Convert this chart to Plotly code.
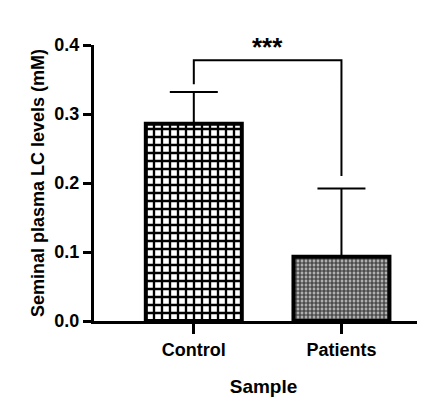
import plotly.graph_objects as go

categories = ["Control", "Patients"]
means = [0.286, 0.093]
sd_plus = [0.046, 0.099]
bracket_y = 0.378
leg_bottoms = [0.343, 0.21]

styles = [
    dict(size=8, solidity=0.5, fg="black", bg="white"),
    dict(size=4, solidity=0.5, fg="#333333", bg="#b0b0b0"),
]

fig = go.Figure()
for i, (m, e) in enumerate(zip(means, sd_plus)):
    s = styles[i]
    fig.add_trace(go.Bar(
        x=[i], y=[m], width=0.65,
        marker=dict(
            color=s["bg"],
            line=dict(color="black", width=4),
            pattern=dict(shape="+", size=s["size"], solidity=s["solidity"],
                         fgcolor=s["fg"], bgcolor=s["bg"], fillmode="replace"),
        ),
        error_y=dict(type="data", array=[e], arrayminus=[0],
                     color="black", thickness=2, width=24),
        showlegend=False,
    ))
# significance bracket
fig.add_trace(go.Scatter(
    x=[0, 0, 1, 1], y=[leg_bottoms[0], bracket_y, bracket_y, leg_bottoms[1]],
    mode="lines", line=dict(color="black", width=2), showlegend=False,
    hoverinfo="skip"))
fig.add_annotation(x=0.5, y=bracket_y, text="<b>***</b>", showarrow=False,
                   yanchor="bottom", yshift=-4, font=dict(size=26, color="black"))

fig.update_layout(
    width=425, height=401, plot_bgcolor="white", paper_bgcolor="white",
    margin=dict(l=86, r=0, t=37, b=88),
    font=dict(family="Liberation Sans, Arial", color="black"),
    barmode="overlay",
)
fig.update_xaxes(
    range=[-0.676, 1.62], tickvals=[0, 1],
    ticktext=["<b>Control</b>", "<b>Patients</b>"],
    tickfont=dict(size=18), showline=True, linecolor="black", linewidth=3,
    ticks="outside", ticklen=10, tickwidth=3, tickcolor="black",
    showgrid=False, zeroline=False,
    title=dict(text="<b>Sample</b>", font=dict(size=19), standoff=22),
)
fig.update_yaxes(
    range=[0, 0.4], tickvals=[0, 0.1, 0.2, 0.3, 0.4],
    ticktext=["<b>0.0</b>", "<b>0.1</b>", "<b>0.2</b>", "<b>0.3</b>", "<b>0.4</b>"],
    tickfont=dict(size=18), showline=True, linecolor="black", linewidth=3,
    ticks="outside", ticklen=8, tickwidth=3, tickcolor="black",
    showgrid=False, zeroline=False,
    title=dict(text="<b>Seminal plasma LC levels (mM)</b>", font=dict(size=18), standoff=6),
)
fig.write_html("out.html")
